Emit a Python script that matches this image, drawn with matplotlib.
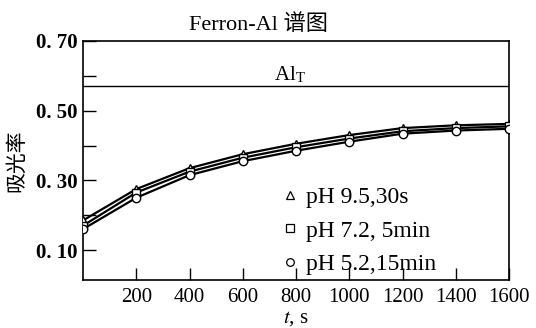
import matplotlib
matplotlib.use("Agg")
import matplotlib.pyplot as plt
from matplotlib.lines import Line2D

t = [0, 200, 400, 600, 800, 1000, 1200, 1400, 1600]
abs_ph95 = [0.185, 0.275, 0.335, 0.375, 0.405, 0.430, 0.450, 0.458, 0.462]
abs_ph72 = [0.170, 0.265, 0.325, 0.365, 0.395, 0.420, 0.441, 0.450, 0.455]
abs_ph52 = [0.160, 0.250, 0.315, 0.355, 0.385, 0.411, 0.434, 0.443, 0.448]
labels = ["pH 9.5,30s", "pH 7.2, 5min", "pH 5.2,15min"]
markers = ["^", "s", "o"]
al_t = 0.571

serif = ["Liberation Serif", "Noto Sans CJK SC"]
plt.rcParams["font.family"] = serif
plt.rcParams["mathtext.fontset"] = "stix"

fig = plt.figure(figsize=(5.36, 3.28), dpi=100)
ax = fig.add_axes([83/536, 48/328, 426/536, 239/328])

series = [abs_ph95, abs_ph72, abs_ph52]
handles = []
for y, m, lab in zip(series, markers, labels):
    ax.plot(t, y, color="black", lw=1.6, marker=m, ms=6, mfc="white",
            mec="black", mew=1.0, zorder=3)
    handles.append(Line2D([], [], ls="none", marker=m, ms=5.5, mfc="white",
                          mec="black", mew=0.9, color="black"))

ax.axhline(al_t, color="black", lw=1.0)
ax.text(777, 0.603, r"Al$_\mathregular{T}$", ha="center", va="center", fontsize=15)

ax.set_xlim(0, 1600)
ax.set_ylim(0.014, 0.70)
ax.set_xticks([200, 400, 600, 800, 1000, 1200, 1400, 1600])
ax.set_yticks([0.10, 0.30, 0.50, 0.70])
ax.set_yticklabels(["0. 10", "0. 30", "0. 50", "0. 70"])
ax.set_yticks([0.20, 0.40, 0.60], minor=True)
ax.tick_params(axis="both", which="both", direction="in", top=False, right=False,
               length=9, width=1.0, labelsize=15)
ax.tick_params(axis="y", which="major", pad=4)
ax.tick_params(axis="x", which="major", pad=6)
for lbl in ax.get_yticklabels():
    lbl.set_fontweight("bold")
for s in ax.spines.values():
    s.set_linewidth(1.2)

ax.set_xlabel(r"$t$, s", fontsize=15, labelpad=1)
ax.set_ylabel("吸光率", fontsize=15, labelpad=6)
ax.set_title("Ferron-Al 谱图", fontsize=16, pad=8, x=0.413)

leg = ax.legend(handles, labels, loc="upper left", bbox_to_anchor=(0.47, 0.39),
                frameon=False, fontsize=17, handlelength=0.6, handletextpad=0.35,
                labelspacing=0.5, borderaxespad=0, borderpad=0)

fig.savefig("out.png", dpi=100)
